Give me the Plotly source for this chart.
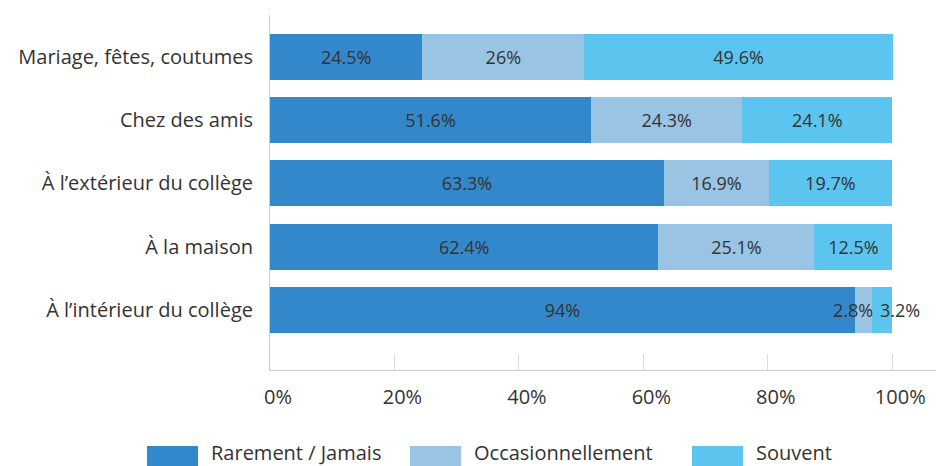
import plotly.graph_objects as go

# categories, bottom to top
categories = [
    "À l’intérieur du collège",
    "À la maison",
    "À l’extérieur du collège",
    "Chez des amis",
    "Mariage, fêtes, coutumes",
]
rarement = [94, 62.4, 63.3, 51.6, 24.5]
occasion = [2.8, 25.1, 16.9, 24.3, 26]
souvent = [3.2, 12.5, 19.7, 24.1, 49.6]

series = [
    ("Rarement / Jamais", rarement, "#3288CA"),
    ("Occasionnellement", occasion, "#9AC4E4"),
    ("Souvent", souvent, "#5BC5F0"),
]

FONT = "Open Sans"
TXT = "#333333"

# page body has an 8px margin, so the figure is laid out 8px left/up of the screen
L, T, B = 262, 7, 104
PW, PH = 944 - L, 466 - T - B


def px_x(sx):
    return (sx - 8 - L) / PW


def px_y(sy):
    return (466 - B - (sy - 8)) / PH


fig = go.Figure()
base = [0] * len(categories)
for i, (name, vals, color) in enumerate(series):
    # narrow segments get their label as an annotation next to them
    labels = ["" if v < 5 else f"{v:g}%" for v in vals]
    fig.add_trace(go.Bar(
        y=categories, x=vals, name=name, orientation="h",
        marker=dict(color=color, line=dict(width=0)),
        text=labels, textposition="inside", textangle=0,
        insidetextanchor="middle", constraintext="none",
        textfont=dict(size=18, color=TXT, family=FONT),
        showlegend=False,
    ))
    for j, v in enumerate(vals):
        if v < 5:
            if i == len(series) - 1:
                fig.add_annotation(x=base[j], y=categories[j], text=f"{v:g}%", xanchor="left",
                                   showarrow=False, xshift=6, font=dict(size=18, color=TXT, family=FONT))
            else:
                fig.add_annotation(x=base[j] + v, y=categories[j], text=f"{v:g}%", xanchor="right",
                                   showarrow=False, xshift=3, font=dict(size=18, color=TXT, family=FONT))
    base = [b + v for b, v in zip(base, vals)]

# legend drawn by hand (large swatches, cut by bottom edge as in source)
leg_x = [147, 410, 692]
for (name, vals, color), sx in zip(series, leg_x):
    fig.add_shape(type="rect", xref="paper", yref="paper",
                  x0=px_x(sx), x1=px_x(sx + 51),
                  y0=px_y(446), y1=px_y(480),
                  fillcolor=color, line=dict(width=0))
    fig.add_annotation(xref="paper", yref="paper", x=px_x(sx + 62), y=px_y(453),
                       text=name, xanchor="left", yanchor="middle", showarrow=False,
                       font=dict(size=20, color=TXT, family=FONT))

fig.update_layout(
    barmode="stack",
    bargap=0.27,
    width=944, height=466,
    margin=dict(l=L, r=0, t=T, b=B),
    plot_bgcolor="white", paper_bgcolor="white",
    font=dict(family=FONT, color=TXT, size=20),
    showlegend=False,
)
fig.update_xaxes(
    range=[0, 109.6], tickvals=[0, 20, 40, 60, 80, 100], ticktext=["0%", "20%", "40%", "60%", "80%", "100%"],
    showgrid=False, showline=True, linecolor="#cccccc", linewidth=1, automargin=False,
    ticks="inside", ticklen=16, tickcolor="#dddddd", tickfont=dict(size=20), zeroline=False,
    ticklabelstandoff=9, ticklabelshift=8,
)
fig.update_yaxes(
    range=[-0.95, 4.66], showgrid=False, showline=True, linecolor="#cccccc", linewidth=1,
    ticks="", ticklabelstandoff=12, tickfont=dict(size=20), automargin=False,
)

fig.write_html("out.html")
